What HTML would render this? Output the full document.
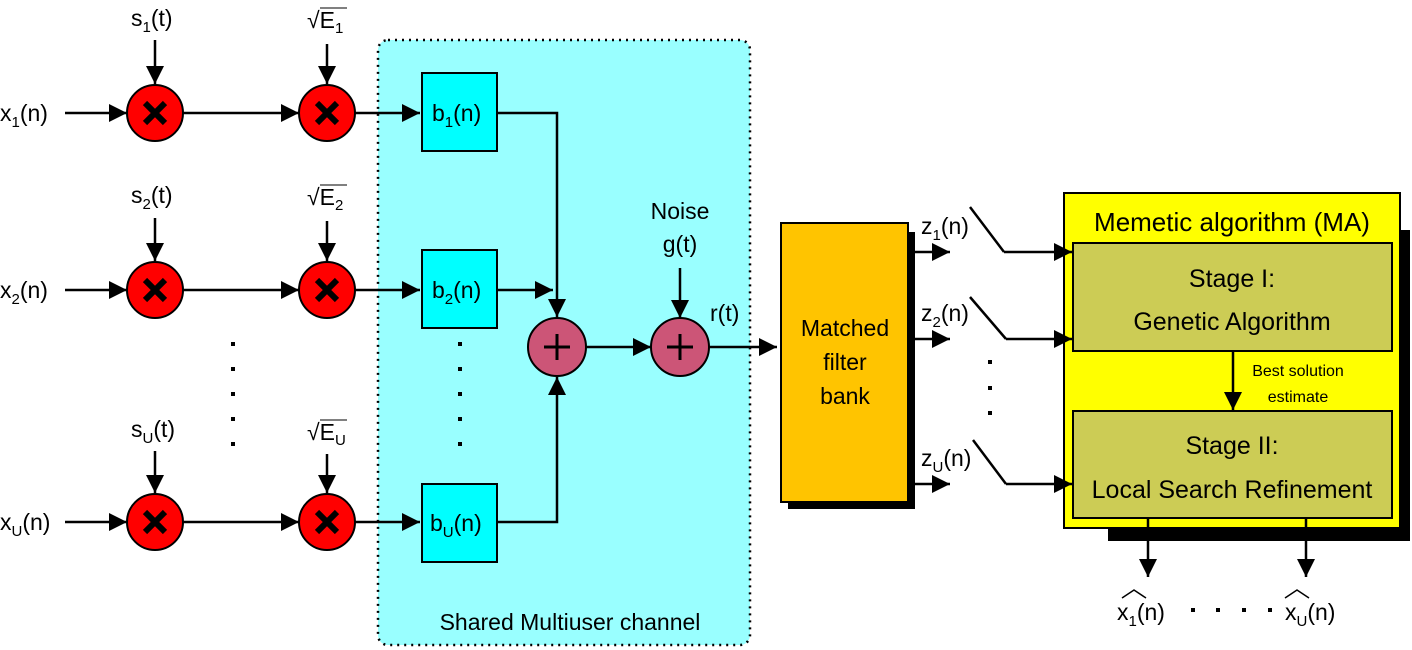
<!DOCTYPE html>
<html><head><meta charset="utf-8"><style>
body{margin:0;background:#fff}
svg{display:block;font-family:"Liberation Sans",sans-serif}
</style></head><body>
<svg width="1412" height="650" viewBox="0 0 1412 650" xmlns="http://www.w3.org/2000/svg">
<defs>
<marker id="a" viewBox="0 0 10 10" refX="10" refY="5" markerWidth="20" markerHeight="18" markerUnits="userSpaceOnUse" orient="auto"><path d="M0,0 L10,5 L0,10 z" fill="#000"/></marker>
<g id="mul"><circle r="28" fill="#ff0000" stroke="#000" stroke-width="2"/><path d="M-10,-10 L10,10 M10,-10 L-10,10" stroke="#000" stroke-width="6"/></g>
<g id="add"><circle r="29" fill="#cc5577" stroke="#000" stroke-width="2"/><path d="M-13,0 H13 M0,-13 V13" stroke="#000" stroke-width="3"/></g>
</defs>
<rect x="378" y="40" width="372" height="605" rx="10" fill="#99ffff" stroke="#000" stroke-dasharray="2,5" stroke-width="2.5"/>
<!-- matched filter -->
<rect x="788" y="232" width="127" height="277" fill="#000"/>
<rect x="781" y="223" width="127" height="279" fill="#ffc400" stroke="#000" stroke-width="2"/>
<!-- MA -->
<rect x="1108" y="230" width="302" height="311" fill="#000"/>
<rect x="1064" y="193" width="336" height="335" fill="#ffff00" stroke="#000" stroke-width="2"/>
<rect x="1073" y="243" width="319" height="108" fill="#cccc55" stroke="#000" stroke-width="2"/>
<rect x="1073" y="411" width="319" height="107" fill="#cccc55" stroke="#000" stroke-width="2"/>
<g stroke="#000" stroke-width="2.5" fill="none" marker-end="url(#a)">
<path d="M65,113 H127"/><path d="M183,113 H299"/><path d="M355,113 H420"/>
<path d="M155,40 V84"/><path d="M327,44 V84"/>
<path d="M65,290 H127"/><path d="M183,290 H299"/><path d="M355,290 H420"/>
<path d="M155,218 V261"/><path d="M327,221 V261"/>
<path d="M65,522 H127"/><path d="M183,522 H299"/><path d="M355,522 H420"/>
<path d="M155,451 V493"/><path d="M327,454 V493"/>
<path d="M497,113 H557 V317"/>
<path d="M497,290 H553"/>
<path d="M497,522 H557 V377"/>
<path d="M586,347 H651"/>
<path d="M680,268 V318"/>
<path d="M709,347 H777"/>
<path d="M908,252 H950"/><path d="M908,339 H950"/><path d="M908,484 H950"/>
<path d="M1004,252 H1072"/><path d="M1006,339 H1072"/><path d="M1006,484 H1072"/>
<path d="M1233,351 V410"/>
<path d="M1148,518 V577"/><path d="M1306,518 V577"/>
</g>
<g stroke="#000" stroke-width="2.5">
<path d="M970,207 L1004,252 M970,297 L1006,339 M973,440 L1006,484"/>
</g>
<use href="#mul" x="155" y="113"/><use href="#mul" x="327" y="113"/>
<use href="#mul" x="155" y="290"/><use href="#mul" x="327" y="290"/>
<use href="#mul" x="155" y="522"/><use href="#mul" x="327" y="522"/>
<use href="#add" x="557" y="347"/><use href="#add" x="680" y="347"/>
<g fill="#00ffff" stroke="#000" stroke-width="2">
<rect x="422" y="73" width="75" height="78"/>
<rect x="422" y="250" width="75" height="78"/>
<rect x="422" y="484" width="75" height="78"/>
</g>
<g fill="#000" font-size="23">
<text x="0" y="121">x<tspan font-size="15" dy="6">1</tspan><tspan dy="-6">(n)</tspan></text>
<text x="0" y="298">x<tspan font-size="15" dy="6">2</tspan><tspan dy="-6">(n)</tspan></text>
<text x="0" y="530">x<tspan font-size="15" dy="6">U</tspan><tspan dy="-6">(n)</tspan></text>
<text x="131" y="26">s<tspan font-size="15" dy="6">1</tspan><tspan dy="-6">(t)</tspan></text>
<text x="131" y="203">s<tspan font-size="15" dy="6">2</tspan><tspan dy="-6">(t)</tspan></text>
<text x="131" y="437">s<tspan font-size="15" dy="6">U</tspan><tspan dy="-6">(t)</tspan></text>
<text x="307" y="28">√E<tspan font-size="15" dy="5">1</tspan></text>
<text x="307" y="205">√E<tspan font-size="15" dy="5">2</tspan></text>
<text x="307" y="440">√E<tspan font-size="15" dy="5">U</tspan></text>
<text x="432" y="121">b<tspan font-size="15" dy="6">1</tspan><tspan dy="-6">(n)</tspan></text>
<text x="432" y="298">b<tspan font-size="15" dy="6">2</tspan><tspan dy="-6">(n)</tspan></text>
<text x="430" y="531">b<tspan font-size="15" dy="6">U</tspan><tspan dy="-6">(n)</tspan></text>
<text x="680" y="219" text-anchor="middle">Noise</text>
<text x="680" y="252" text-anchor="middle">g(t)</text>
<text x="710" y="321">r(t)</text>
<text x="845" y="336" text-anchor="middle">Matched</text>
<text x="845" y="370" text-anchor="middle">filter</text>
<text x="845" y="404" text-anchor="middle">bank</text>
<text x="921" y="234">z<tspan font-size="15" dy="6">1</tspan><tspan dy="-6">(n)</tspan></text>
<text x="921" y="321">z<tspan font-size="15" dy="6">2</tspan><tspan dy="-6">(n)</tspan></text>
<text x="921" y="466">z<tspan font-size="15" dy="6">U</tspan><tspan dy="-6">(n)</tspan></text>
<text x="570" y="630" text-anchor="middle">Shared Multiuser channel</text>
<text x="1117" y="620">x<tspan font-size="15" dy="6">1</tspan><tspan dy="-6">(n)</tspan></text>
<text x="1285" y="620">x<tspan font-size="15" dy="6">U</tspan><tspan dy="-6">(n)</tspan></text>
</g>
<path d="M1122,598 L1134,590 L1146,598 M1285,598 L1297,590 L1309,598" stroke="#000" stroke-width="1.5" fill="none"/>
<path d="M320,8 H347 M320,185 H347 M320,420 H347" stroke="#000" stroke-width="1"/>
<g font-size="26" fill="#000" text-anchor="middle">
<text x="1232" y="231">Memetic algorithm (MA)</text>
<text x="1232" y="287" font-size="25">Stage I:</text>
<text x="1232" y="330" font-size="25">Genetic Algorithm</text>
<text x="1232" y="454" font-size="25">Stage II:</text>
<text x="1232" y="498" font-size="25">Local Search Refinement</text>
<text x="1298" y="376" font-size="16">Best solution</text>
<text x="1298" y="402" font-size="16">estimate</text>
</g>
<g fill="#000">
<rect x="231" y="342" width="4" height="4"/><rect x="231" y="367" width="4" height="4"/><rect x="231" y="392" width="4" height="4"/><rect x="231" y="417" width="4" height="4"/><rect x="231" y="442" width="4" height="4"/>
<rect x="458" y="342" width="4" height="4"/><rect x="458" y="367" width="4" height="4"/><rect x="458" y="392" width="4" height="4"/><rect x="458" y="417" width="4" height="4"/><rect x="458" y="442" width="4" height="4"/>
<rect x="988" y="360" width="4" height="4"/><rect x="988" y="386" width="4" height="4"/><rect x="988" y="411" width="4" height="4"/>
<rect x="1191" y="608" width="4" height="4"/><rect x="1216" y="608" width="4" height="4"/><rect x="1242" y="608" width="4" height="4"/><rect x="1268" y="608" width="4" height="4"/>
</g>
</svg>
</body></html>
